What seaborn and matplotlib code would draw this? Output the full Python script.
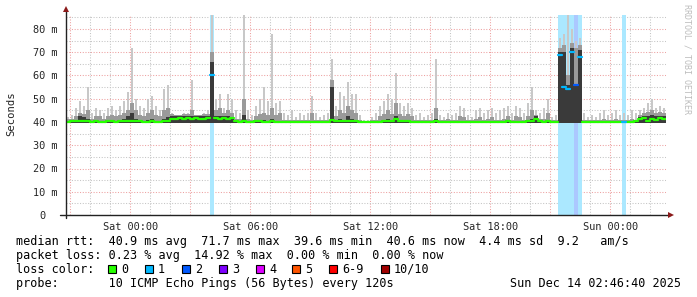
import numpy as np
import pandas as pd
import matplotlib
matplotlib.use("Agg")
import matplotlib.pyplot as plt
import seaborn as sns
from matplotlib.patches import Rectangle
from matplotlib.colors import to_rgb

# ---------------- data ----------------
t_start = -3.2222          # hours relative to Sat 00:00 (graph start)
step_h = 0.2               # hours per sample bin
span_h = 30.0

rtt_max = [
    42, 43, 46, 49, 47, 55, 44, 46, 45, 44,
    46, 47, 45, 47, 49, 53, 72, 50, 47, 46,
    50, 51, 47, 45, 54, 56, 44, 43, 43, 44,
    44, 58, 43, 43, 44, 45, 86, 50, 52, 46,
    52, 50, 45, 44, 86, 45, 43, 47, 50, 55,
    49, 78, 48, 49, 44, 43, 45, 42, 44, 43,
    44, 51, 44, 42, 43, 44, 67, 47, 53, 51,
    57, 52, 52, 43, 41, 41, 42, 44, 47, 49,
    52, 50, 61, 48, 47, 48, 46, 43, 44, 42,
    43, 44, 67, 43, 42, 44, 43, 44, 47, 46,
    43, 42, 45, 46, 44, 45, 46, 44, 45, 46,
    47, 44, 47, 46, 44, 48, 55, 45, 44, 46,
    50, 42, 43, 76, 78, 86, 80, 75, 76, 44,
    42, 43, 42, 44, 45, 43, 44, 45, 43, 44,
    43, 45, 44, 45, 46, 48, 50, 46, 47, 46,
]
rtt_q3 = [
    41.2, 41.5, 42.5, 44, 43.5, 45, 41.5, 42.5, 42.5, 41.5,
    42.5, 43, 42.5, 43, 44, 45, 48, 45, 43, 42.5,
    44, 45, 43, 42.5, 45, 46, 43.5, 43, 43, 43.5,
    43.5, 45, 43, 43, 43.5, 43.5, 70, 45, 46, 44,
    45, 44, 41.5, 41.5, 50, 41.5, 40.8, 42.5, 43.5, 44,
    43, 46, 43, 44, 41, 40.8, 41, 40.8, 41, 40.8,
    41, 44, 41, 40.8, 40.8, 41, 58, 42.5, 45, 44,
    47, 45, 44, 40.8, 40.6, 40.6, 40.8, 41, 42.5, 43.5,
    45, 43.5, 48, 43.5, 42.5, 43.5, 42.5, 41, 41, 40.8,
    40.8, 41, 46, 41, 40.8, 41.5, 41, 41, 42.5, 42,
    41, 40.8, 41.5, 42, 41, 41.5, 42, 41, 41, 41.5,
    42.5, 41, 42.5, 42, 41, 42.5, 45, 43, 41.5, 41.5,
    44, 40.8, 41, 72, 73, 60, 74, 72, 73, 41,
    40.8, 41, 40.8, 41, 41.5, 41, 41, 41.5, 41, 41,
    40.8, 41.5, 41, 43, 44, 44.5, 45, 44, 44.5, 44,
]
rtt_q2 = [
    40.5, 40.6, 41, 42.5, 42, 41.5, 40.6, 40.6, 40.6, 40.5,
    40.6, 41, 40.6, 41, 41.5, 42.5, 44, 41.5, 41, 40.6,
    41, 41.5, 40.6, 40.6, 41.5, 42, 42.5, 42.5, 42.5, 42.5,
    42.5, 42.5, 42.5, 42.5, 42.5, 42.5, 66, 42.5, 42.5, 42.5,
    42.5, 42, 40.5, 40.5, 43, 40.5, 40.5, 40.6, 41, 41,
    40.6, 41.5, 40.6, 40.6, 40.5, 40.5, 40.5, 40.5, 40.5, 40.5,
    40.5, 40.6, 40.5, 40.5, 40.5, 40.5, 55, 40.6, 41.5, 41,
    42.5, 41.5, 41, 40.5, 40.4, 40.4, 40.5, 40.5, 40.6, 41,
    41.5, 41, 42.5, 41, 40.6, 41, 40.6, 40.5, 40.5, 40.5,
    40.5, 40.5, 41.5, 40.5, 40.5, 40.5, 40.5, 40.5, 40.6, 40.6,
    40.5, 40.5, 40.6, 40.6, 40.5, 40.6, 40.6, 40.5, 40.5, 40.6,
    40.6, 40.5, 40.6, 40.6, 40.5, 41, 41.5, 42.5, 40.6, 40.6,
    41, 40.5, 40.5, 70, 70, 56, 72, 56, 71, 40.5,
    40.5, 40.5, 40.5, 40.5, 40.6, 40.5, 40.5, 40.5, 40.5, 40.5,
    40.5, 40.6, 40.5, 42, 42.5, 42.5, 43, 42.5, 42.5, 42.5,
]
rtt_median = [
    40.2, 40.3, 40.4, 40.5, 40.3, 40.4, 40.2, 40.3, 40.2, 40.2,
    40.3, 40.4, 40.2, 40.3, 40.4, 40.5, 40.6, 40.4, 40.3, 40.2,
    40.1, 40.3, 40.2, 40.1, 40.3, 40.6, 41.5, 41.2, 41.8, 41.3,
    41.6, 41.2, 41.7, 41.3, 41.5, 41.8, 60.0, 41.8, 41.4, 41.9,
    41.3, 41.6, 40.3, 40.2, 40.3, 40.2, 40.2, 40.3, 40.3, 40.2,
    40.2, 40.3, 40.2, 40.2, 40.1, 40.1, 40.2, 40.1, 40.2, 40.1,
    40.1, 40.2, 40.1, 40.1, 40.1, 40.2, 40.8, 40.3, 40.4, 40.3,
    40.6, 40.4, 40.3, 40.1, 40.0, 40.0, 40.1, 40.1, 40.2, 40.3,
    40.5, 40.4, 41.5, 40.5, 40.3, 40.4, 40.2, 40.1, 40.2, 40.1,
    40.1, 40.2, 40.3, 40.1, 40.0, 40.1, 40.1, 40.0, 40.2, 40.1,
    40.1, 40.0, 40.1, 40.2, 40.1, 40.2, 40.2, 40.1, 40.1, 40.2,
    40.3, 40.1, 40.2, 40.2, 40.1, 40.3, 40.4, 41.4, 40.3, 40.2,
    40.3, 40.1, 40.2, 69.0, 55.0, 54.0, 70.0, 56.0, 68.0, 40.2,
    40.1, 40.2, 40.1, 40.1, 40.2, 40.1, 40.0, 40.1, 40.1, 40.0,
    40.0, 40.2, 40.3, 41.2, 41.8, 40.6, 41.5, 41.0, 41.6, 41.2,
]
rtt_floor = 39.6
loss_bins = [36, 123, 124, 125, 126, 127, 128, 139]
loss_counts = [1, 1, 1, 1, 1, 2, 1, 1]

xtick_hours = [0, 6, 12, 18, 24]
xtick_labels = ["Sat 00:00", "Sat 06:00", "Sat 12:00", "Sat 18:00", "Sun 00:00"]
ytick_values = [0, 10, 20, 30, 40, 50, 60, 70, 80]
ytick_labels = ["0  ", "10 m", "20 m", "30 m", "40 m", "50 m", "60 m", "70 m", "80 m"]

loss_levels = ["0", "1", "2", "3", "4", "5", "6-9", "10/10"]
loss_colors = ["#26ff00", "#00b8ff", "#0059ff", "#7e00ff", "#dd00ff",
               "#ff5500", "#ff0000", "#a10000"]

legend_lines = [
    "median rtt:  40.9 ms avg  71.7 ms max  39.6 ms min  40.6 ms now  4.4 ms sd  9.2   am/s",
    "packet loss: 0.23 % avg  14.92 % max  0.00 % min  0.00 % now",
    "loss color:",
    "probe:       10 ICMP Echo Pings (56 Bytes) every 120s",
]
stamp = "Sun Dec 14 02:46:40 2025"

# ---------------- figure ----------------
sns.set_style("white")
plt.rcParams['font.family'] = ['DejaVu Sans Mono', 'DejaVu Sans']

W, H = 697, 297
fig = plt.figure(figsize=(W / 100, H / 100), dpi=100)
fig.patch.set_facecolor("white")
ax = fig.add_axes([66 / W, (H - 215) / H, 600 / W, 200 / H])
ax.set_facecolor("white")
ymax = 200 / 23.25 * 10

n = len(rtt_median)
times = t_start + step_h * np.arange(n)
loss_arr = np.zeros(n, dtype=int)
for b, c in zip(loss_bins, loss_counts):
    loss_arr[b] = c

# loss background bands
def lighten(c, a=0.33):
    r, g, b = to_rgb(c)
    return (1 - a + a * r, 1 - a + a * g, 1 - a + a * b)

band_t = times[loss_bins]
band_c = [lighten(loss_colors[c]) for c in loss_counts]
ax.bar(band_t, ymax, width=step_h, align="edge", color=band_c, linewidth=0, zorder=1)

# smoke
max_a = np.array(rtt_max, float)
q3_a = np.array(rtt_q3, float)
q2_a = np.array(rtt_q2, float)
ax.bar(times + step_h / 2, max_a - rtt_floor, bottom=rtt_floor, width=step_h * 0.7,
       align="center", color="#c8c8c8", linewidth=0, zorder=2)
ax.bar(times, q3_a - rtt_floor, bottom=rtt_floor, width=step_h, align="edge",
       color="#9a9a9a", linewidth=0, zorder=3)
ax.bar(times, q2_a - rtt_floor, bottom=rtt_floor, width=step_h, align="edge",
       color="#3a3a3a", linewidth=0, zorder=4)

# median segments coloured by loss (seaborn)
rows = []
for i in range(n):
    lab = loss_levels[loss_arr[i]]
    rows.append((i, times[i], rtt_median[i], lab))
    rows.append((i, times[i] + step_h, rtt_median[i], lab))
df = pd.DataFrame(rows, columns=["seg", "t", "rtt", "loss"])
pal = dict(zip(loss_levels, loss_colors))
sns.lineplot(data=df, x="t", y="rtt", units="seg", estimator=None, hue="loss",
             palette=pal, legend=False, linewidth=1.6, ax=ax, zorder=5)
ax.set_xlabel("")
ax.set_ylabel("")

ax.set_xlim(t_start, t_start + span_h)
ax.set_ylim(0, ymax)

# grid / ticks
ax.set_xticks(np.arange(-3, 27, 3))
ax.set_xticklabels([xtick_labels[xtick_hours.index(h)] if h in xtick_hours else ""
                    for h in range(-3, 27, 3)])
ax.set_xticks(np.arange(-3, 27, 1), minor=True)
ax.set_yticks(ytick_values)
ax.set_yticklabels(ytick_labels)
ax.set_yticks(np.arange(5, 90, 10), minor=True)
ax.set_axisbelow(True)
ax.grid(which="major", color="#eda0a0", linestyle=(0, (1, 1.6)), linewidth=0.75)
ax.grid(which="minor", color="#c4c4c4", linestyle=(0, (1, 1.6)), linewidth=0.75)
for s in ax.spines.values():
    s.set_visible(False)
ax.tick_params(axis="x", which="major", length=3, width=0.7, direction="out",
               pad=2, labelsize=7.4, color="#555555")
ax.tick_params(axis="x", which="minor", length=0)
ax.tick_params(axis="y", which="major", length=3, width=0.7, direction="out",
               pad=2.8, labelsize=7.4, color="#555555")
ax.tick_params(axis="y", which="minor", length=2, width=0.7, direction="out",
               color="#555555")

# axis lines with arrows
ax.plot([-0.01, 1.0067], [0, 0], transform=ax.transAxes, color="#222222",
        lw=1.0, clip_on=False, zorder=7)
ax.plot([0, 0], [-0.015, 1.025], transform=ax.transAxes, color="#222222",
        lw=1.0, clip_on=False, zorder=7)
ax.plot([1.0085], [0], marker=">", ms=4, color="#8b1a1a", transform=ax.transAxes,
        clip_on=False, zorder=8, markeredgewidth=0)
ax.plot([0], [1.03], marker="^", ms=4, color="#8b1a1a", transform=ax.transAxes,
        clip_on=False, zorder=8, markeredgewidth=0)

# texts
fig.text(11 / W, 1 - 114 / H, "Seconds", rotation=90, ha="center", va="center",
         fontsize=7.6, color="#222222")
fig.text(687 / W, 1 - 4 / H, "RRDTOOL / TOBI OETIKER", rotation=270,
         ha="center", va="top", fontsize=6, color="#bdbdbd")

fs = 8.5
baselines = [245, 259, 273, 287]
for line, yb in zip(legend_lines, baselines):
    fig.text(16 / W, 1 - yb / H, line, ha="left", va="baseline", fontsize=fs,
             color="black")
fig.text(681 / W, 1 - 287 / H, stamp, ha="right", va="baseline", fontsize=fs,
         color="black")

box_x = [108, 145, 182, 219, 256, 292, 329, 381]
for bx, lab, col in zip(box_x, loss_levels, loss_colors):
    fig.add_artist(Rectangle((bx / W, 1 - 272.5 / H), 8 / W, 8 / H,
                             transform=fig.transFigure, facecolor=col,
                             edgecolor="black", linewidth=0.8))
    fig.text((bx + 13) / W, 1 - 273 / H, lab, ha="left", va="baseline",
             fontsize=fs, color="black")

fig.savefig("out.png", dpi=100, facecolor="white")
